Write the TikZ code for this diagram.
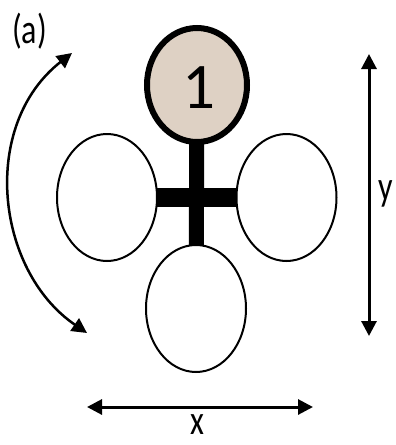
\documentclass[tikz,border=0pt]{standalone}
\usepackage{fontspec}
\setmainfont{Carlito}
\usetikzlibrary{shapes.geometric,arrows.meta,backgrounds}
\definecolor{beige}{RGB}{222,209,196}
\tikzset{
  blob/.style={ellipse, draw=black, line width=2pt, fill=white, inner sep=0pt,
    minimum width=100pt, minimum height=127pt},
  dimarrow/.style={line width=3pt, {Triangle[length=15pt,width=15pt]}-{Triangle[length=15pt,width=15pt]}},
  lbl/.style={font=\fontsize{32}{36}\selectfont, inner sep=0pt}
}
\begin{document}
\begin{tikzpicture}[x=1pt,y=-1pt]
\useasboundingbox (0,0) rectangle (396,445);
% ellipses
\node[blob, draw=black, line width=6pt, fill=beige, minimum width=100pt, minimum height=114pt] (top) at (197,85) {};
\node[blob] (left) at (107,197.5) {};
\node[blob] (right) at (286.5,197.5) {};
\node[blob] (bottom) at (196,308.5) {};
\node[inner sep=0pt, font=\fontsize{65}{70}\selectfont] (one) at (199,88) {1};
% cross
\begin{scope}[on background layer]
  \draw[line width=15pt] (top.center) -- (bottom.center);
  \draw[line width=19pt] (left.center) -- (right.center);
\end{scope}
% dimension arrows
\coordinate (ytop) at (369,54);
\coordinate (ybot) at (369,336);
\coordinate (xl) at (87,407);
\coordinate (xr) at (313,407);
\draw[dimarrow] (ytop) -- (ybot);
\draw[dimarrow] (xl) -- (xr);
% rotation arrow
\coordinate (ct) at (72,53);
\coordinate (cb) at (87,333);
\draw[line width=2.5pt, {Triangle[length=15pt,width=15pt]}-{Triangle[length=15pt,width=15pt]}]
  (ct) .. controls (-20,125) and (-5,270) .. (cb);
% labels
\node[lbl, anchor=base west] (alab) at (12,43) {\scalebox{1}[1.3]{(a)}};
\node[lbl, anchor=base] (ylab) at (386,200) {\scalebox{1}[1.3]{y}};
\node[lbl, anchor=base] (xlab) at (197,434) {\scalebox{1}[1.3]{x}};
\end{tikzpicture}
\end{document}
